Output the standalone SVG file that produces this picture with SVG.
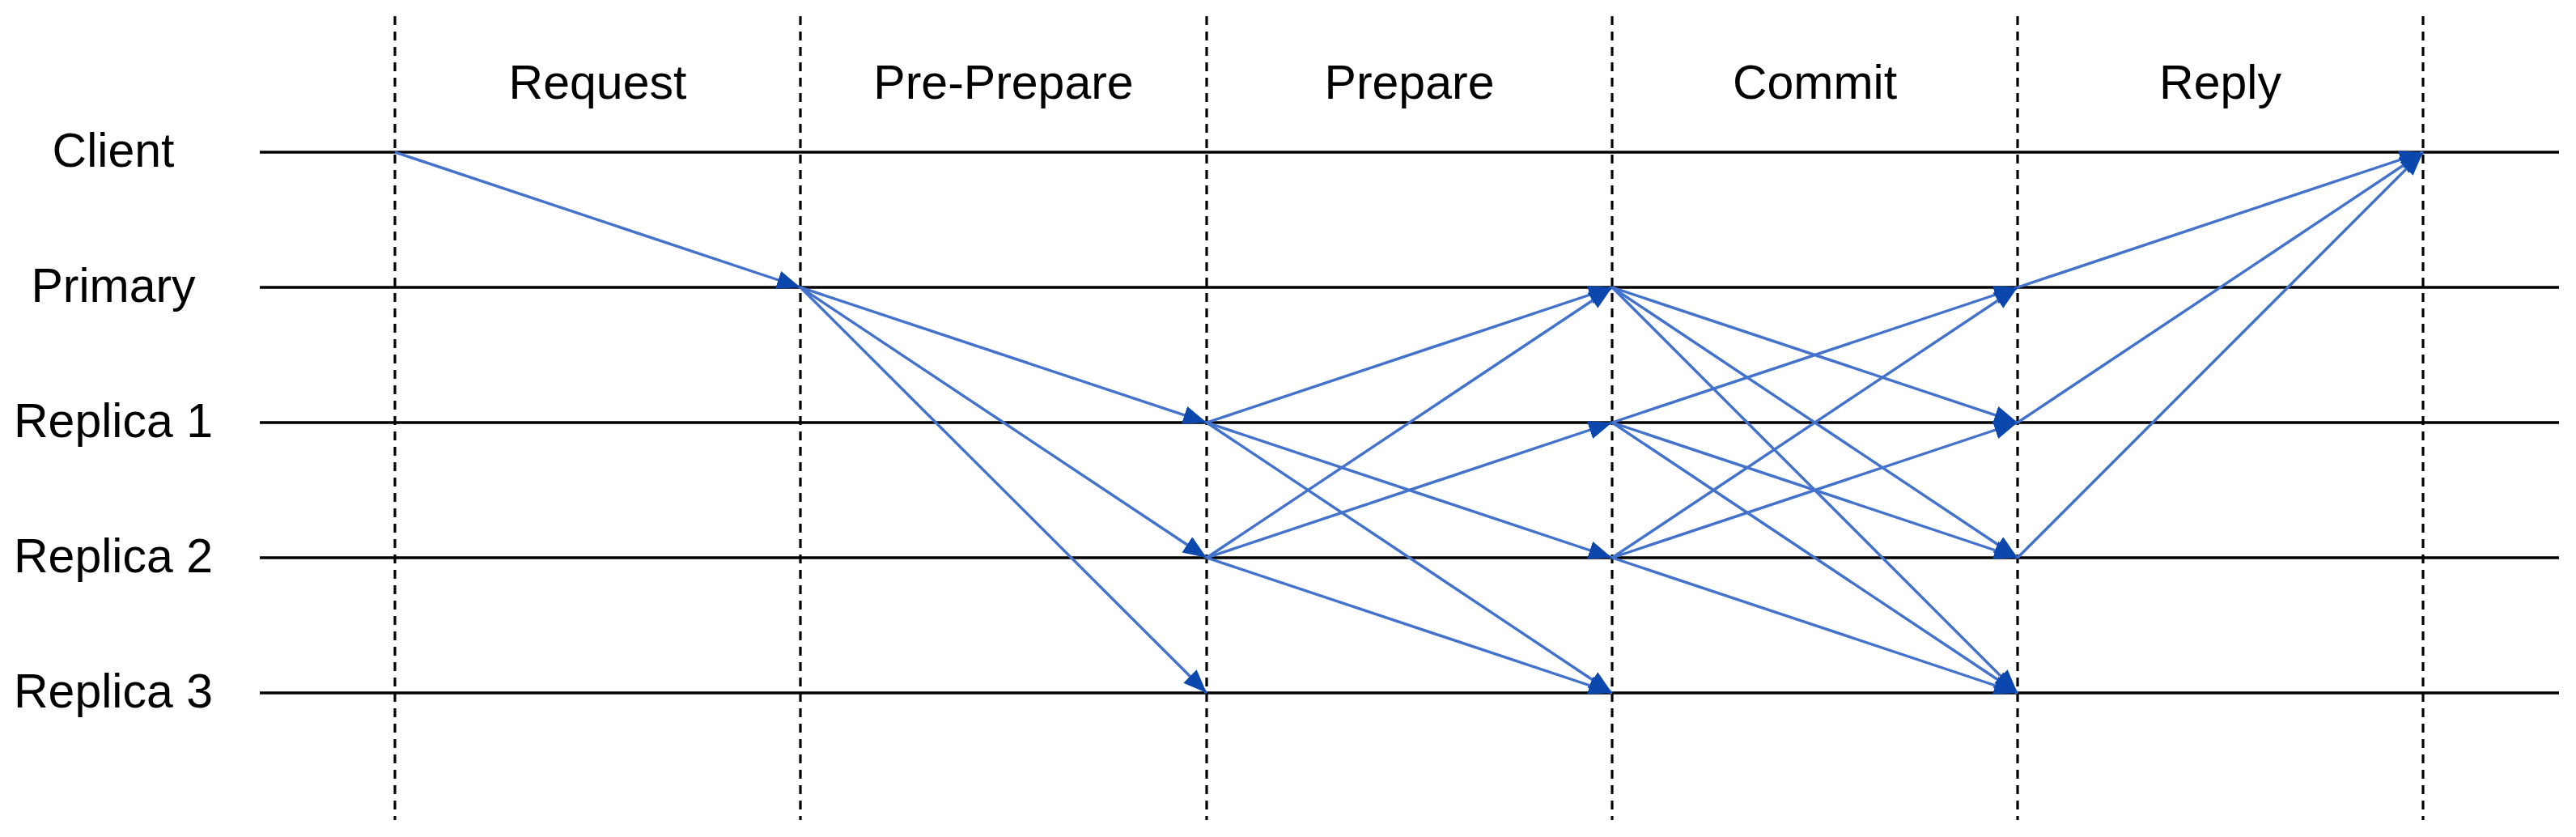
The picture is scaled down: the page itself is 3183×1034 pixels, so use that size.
<svg xmlns="http://www.w3.org/2000/svg" width="3183" height="1034" viewBox="0 0 3183 1034">
<style>
.lbl{font-family:"Liberation Sans",Arial,sans-serif;font-size:59px;fill:#000;text-anchor:middle}
.dash{stroke:#000;stroke-width:3.2;stroke-dasharray:11 8;fill:none}
.life{stroke:#000;stroke-width:3.6;fill:none}
.msg{stroke:#4272CC;stroke-width:3.4;fill:none;marker-end:url(#ah)}
</style>
<defs>
<marker id="ah" markerUnits="userSpaceOnUse" markerWidth="32" markerHeight="26" refX="29" refY="11.5" orient="auto">
<path d="M0,0 L29,11.5 L0,23 Z" fill="#0B47AD"/>
</marker>
</defs>
<rect width="3183" height="1034" fill="#fff"/>
<g id="phases">
<line class="dash" x1="488" y1="20" x2="488" y2="1013"/>
<line class="dash" x1="989" y1="20" x2="989" y2="1013"/>
<line class="dash" x1="1491" y1="20" x2="1491" y2="1013"/>
<line class="dash" x1="1992" y1="20" x2="1992" y2="1013"/>
<line class="dash" x1="2493" y1="20" x2="2493" y2="1013"/>
<line class="dash" x1="2994" y1="20" x2="2994" y2="1013"/>
<text class="lbl" x="738.5" y="122">Request</text>
<text class="lbl" x="1240" y="122">Pre-Prepare</text>
<text class="lbl" x="1741.5" y="122">Prepare</text>
<text class="lbl" x="2242.5" y="122">Commit</text>
<text class="lbl" x="2743.5" y="122">Reply</text>
</g>
<g id="client"><text class="lbl" x="140" y="206">Client</text><line class="life" x1="321" y1="188" x2="3162" y2="188"/></g>
<g id="primary"><text class="lbl" x="140" y="373">Primary</text><line class="life" x1="321" y1="355" x2="3162" y2="355"/></g>
<g id="replica1"><text class="lbl" x="140" y="540">Replica 1</text><line class="life" x1="321" y1="522" x2="3162" y2="522"/></g>
<g id="replica2"><text class="lbl" x="140" y="707">Replica 2</text><line class="life" x1="321" y1="689" x2="3162" y2="689"/></g>
<g id="replica3"><text class="lbl" x="140" y="874">Replica 3</text><line class="life" x1="321" y1="856" x2="3162" y2="856"/></g>
<g id="connectors">
<line class="msg" x1="488" y1="188" x2="989" y2="355"/>
<line class="msg" x1="989" y1="355" x2="1491" y2="522"/>
<line class="msg" x1="989" y1="355" x2="1491" y2="689"/>
<line class="msg" x1="989" y1="355" x2="1491" y2="856"/>
<line class="msg" x1="1491" y1="522" x2="1992" y2="355"/>
<line class="msg" x1="1491" y1="522" x2="1992" y2="689"/>
<line class="msg" x1="1491" y1="522" x2="1992" y2="856"/>
<line class="msg" x1="1491" y1="689" x2="1992" y2="355"/>
<line class="msg" x1="1491" y1="689" x2="1992" y2="522"/>
<line class="msg" x1="1491" y1="689" x2="1992" y2="856"/>
<line class="msg" x1="1992" y1="355" x2="2493" y2="522"/>
<line class="msg" x1="1992" y1="355" x2="2493" y2="689"/>
<line class="msg" x1="1992" y1="355" x2="2493" y2="856"/>
<line class="msg" x1="1992" y1="522" x2="2493" y2="355"/>
<line class="msg" x1="1992" y1="522" x2="2493" y2="689"/>
<line class="msg" x1="1992" y1="522" x2="2493" y2="856"/>
<line class="msg" x1="1992" y1="689" x2="2493" y2="355"/>
<line class="msg" x1="1992" y1="689" x2="2493" y2="522"/>
<line class="msg" x1="1992" y1="689" x2="2493" y2="856"/>
<line class="msg" x1="2493" y1="355" x2="2994" y2="188"/>
<line class="msg" x1="2493" y1="522" x2="2994" y2="188"/>
<line class="msg" x1="2493" y1="689" x2="2994" y2="188"/>
</g>
</svg>
